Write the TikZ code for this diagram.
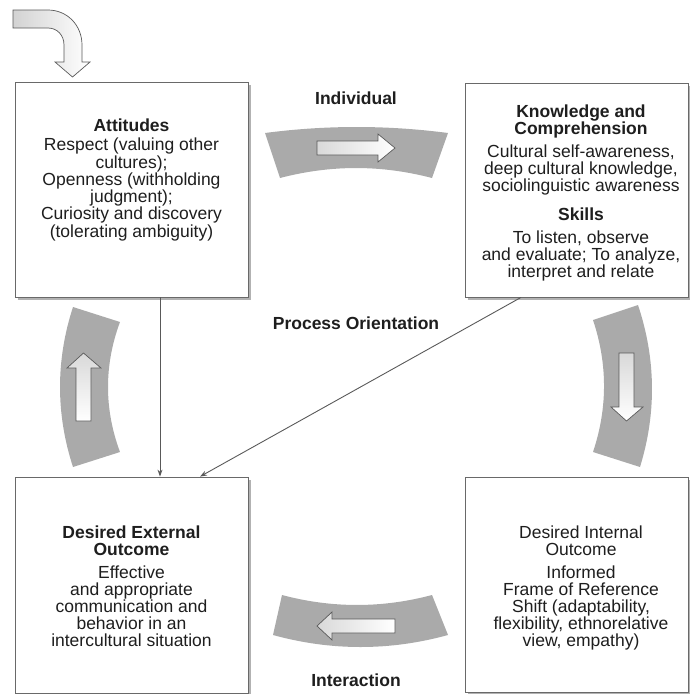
\documentclass[tikz,border=0pt]{standalone}
\usepackage{fontspec}
\setmainfont{Liberation Sans}
\usetikzlibrary{arrows.meta,shadows}
\definecolor{bandgray}{RGB}{170,170,170}
\definecolor{boxline}{RGB}{105,105,105}
\definecolor{txt}{RGB}{30,30,30}
\begin{document}
\begin{tikzpicture}[x=1pt,y=-1pt,
  box/.style={draw=boxline,fill=white,line width=0.8pt,inner sep=0pt,
    drop shadow={shadow xshift=2.5pt,shadow yshift=-2.5pt,fill=black!30,opacity=1}},
  txtnode/.style={align=center,text=txt,font=\fontsize{17.5}{17}\selectfont,inner sep=0pt},
  lbl/.style={text=txt,font=\fontsize{17.5}{17}\selectfont\bfseries,inner sep=0pt},
  band/.style={fill=bandgray,draw=none},
  blockarrow/.style={draw=black!65,line width=0.7pt,line join=miter},
  conn/.style={draw=black!65,line width=0.9pt,-{Stealth[length=7pt,width=5pt]}}]
\useasboundingbox (0,0) rectangle (690,694);

% entry curved arrow
\path[blockarrow,left color=gray!35,right color=white]
  (13,10) -- (48,10) .. controls (67,10) and (82,25) .. (82,45) -- (82,62) -- (90,62) -- (72.5,77)
  -- (55,62) -- (64,62) -- (64,45) .. controls (64,35) and (57,28) .. (48,28) -- (13,28) -- cycle;

% bands
\path[band] (265,133) .. controls (326,125) and (387,125) .. (448,133) -- (432,178)
  .. controls (381,164.7) and (331,164.7) .. (280,178) -- cycle;
\path[band] (73,307) .. controls (55.7,360) and (55.7,414) .. (73,467) -- (120,452)
  .. controls (104,409) and (104,365) .. (120,322) -- cycle;
\path[band] (638,305) .. controls (656.3,360) and (656.3,414) .. (640,467) -- (593,452)
  .. controls (607.7,408) and (607.7,364) .. (593,320) -- cycle;
\path[band] (282,595) .. controls (332,608.3) and (382,608.3) .. (432,595) -- (448,635)
  .. controls (390,651) and (331,651) .. (273,635) -- cycle;

% block arrows in bands
\path[blockarrow,left color=gray!30,right color=white]
  (317,141) -- (378,141) -- (378,134) -- (395,148) -- (378,162) -- (378,155) -- (317,155) -- cycle;
\path[blockarrow,left color=gray!30,right color=white]
  (395,619) -- (332,619) -- (332,612) -- (317,626) -- (332,640) -- (332,633) -- (395,633) -- cycle;
\path[blockarrow,top color=gray!30,bottom color=white]
  (76,421) -- (76,368) -- (67,368) -- (83.5,353) -- (101,368) -- (91,368) -- (91,421) -- cycle;
\path[blockarrow,top color=gray!30,bottom color=white]
  (619,353) -- (634,353) -- (634,407) -- (643,407) -- (626.5,421) -- (611,407) -- (619,407) -- cycle;

% boxes
\node[box,minimum width=233pt,minimum height=215pt] (att) at (131.5,189.5) {};
\node[box,minimum width=223pt,minimum height=214pt] (know) at (576.5,190) {};
\node[box,minimum width=233pt,minimum height=216pt] (ext) at (131.5,585) {};
\node[box,minimum width=223pt,minimum height=215pt] (int) at (576.5,584.5) {};

% box texts
\node[txtnode,font=\fontsize{17.5}{16}\selectfont] (attT) at (131.5,180) {{\bfseries Attitudes}\\[3pt]
  Respect (valuing other\\ cultures);\\ Openness (withholding\\ judgment);\\
  Curiosity and discovery\\ (tolerating ambiguity)};
\node[txtnode] (knowT) at (581,192.5) {{\bfseries Knowledge and}\\ {\bfseries Comprehension}\\[6pt]
  Cultural self-awareness,\\ deep cultural knowledge,\\ sociolinguistic awareness\\[12pt]
  {\bfseries Skills}\\[6pt] To listen, observe\\ and evaluate; To analyze,\\ interpret and relate};
\node[txtnode] (extT) at (131.5,586) {{\bfseries Desired External}\\ {\bfseries Outcome}\\[6pt]
  Effective\\ and appropriate\\ communication and\\ behavior in an\\ intercultural situation};
\node[txtnode] (intT) at (581,588) {Desired Internal\\ Outcome\\[6pt]
  Informed\\ Frame of Reference\\ Shift (adaptability,\\ flexibility, ethnorelative\\ view, empathy)};

% labels
\node[lbl] (indiv) at (356,98) {Individual};
\node[lbl] (proc) at (356,323) {Process Orientation};
\node[lbl] (inter) at (356,680) {Interaction};

% connectors
\draw[conn] ([xshift=28.5pt]att.south) -- ([xshift=28.5pt]ext.north);
\draw[conn] ([xshift=-55.5pt]know.south) -- ([xshift=68.5pt]ext.north);
\end{tikzpicture}
\end{document}
